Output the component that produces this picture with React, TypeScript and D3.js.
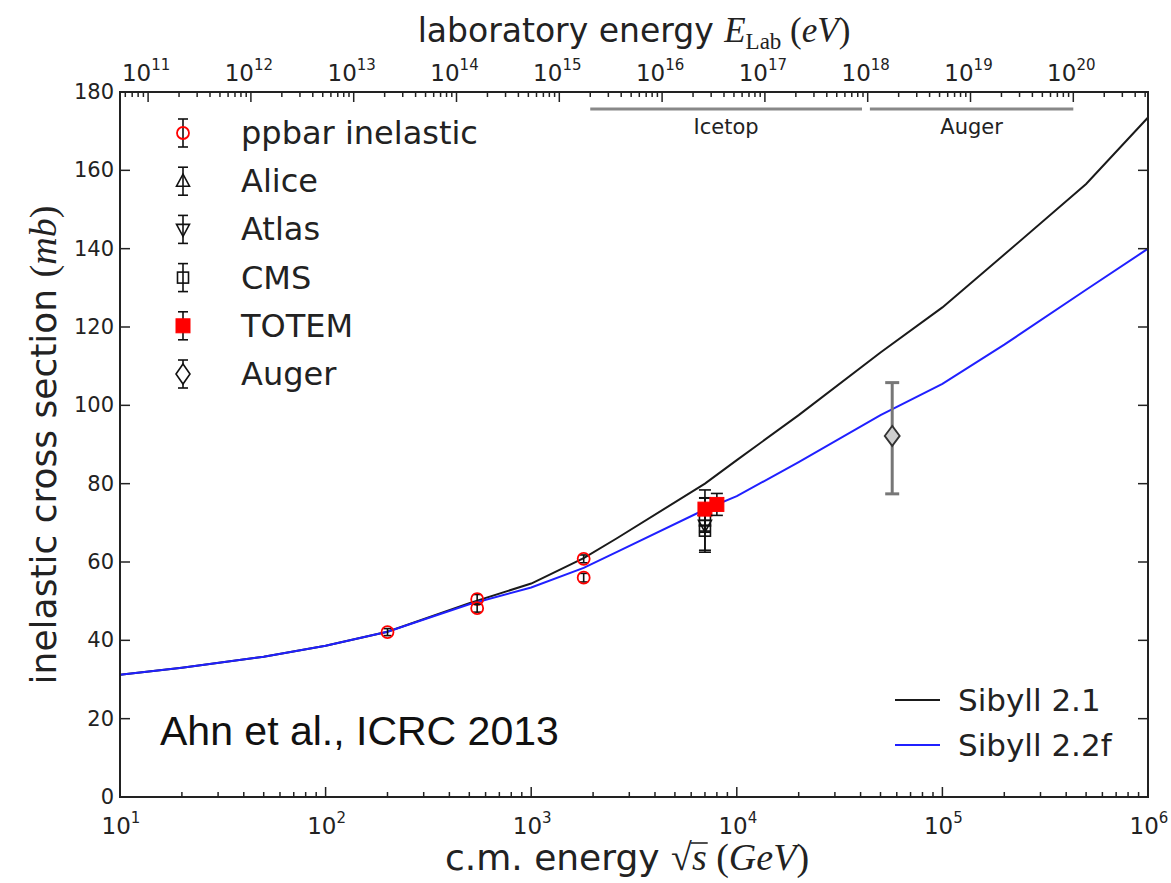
import { useLayoutEffect, useRef, useState } from 'react';
import * as d3 from 'd3';

// c.m. energy grid (GeV) and model cross sections (mb)
const SQRT_S = [10, 20, 50, 100, 200, 500, 1000, 1800, 2600, 7000, 10000, 20000, 50000, 100000, 200000, 500000, 1000000];
const SIBYLL_21 = [31.2, 33.0, 35.8, 38.6, 42.2, 49.5, 54.5, 61.0, 66.0, 80.0, 86.0, 97.5, 113.5, 125.0, 138.5, 156.5, 173.5];
const SIBYLL_22F = [31.2, 33.0, 35.8, 38.6, 42.2, 49.2, 53.5, 58.5, 62.5, 73.4, 76.8, 85.5, 97.5, 105.5, 115.5, 129.5, 140.0];

type Pt = { e: number; v: number; lo: number; hi: number };

const PPBAR: Pt[] = [
  { e: 200, v: 42.1, lo: 0.9, hi: 0.9 },
  { e: 546, v: 50.5, lo: 1.2, hi: 1.2 },
  { e: 546, v: 48.2, lo: 1.0, hi: 1.0 },
  { e: 1800, v: 60.8, lo: 1.0, hi: 1.0 },
  { e: 1800, v: 56.0, lo: 1.1, hi: 1.1 },
];
const ALICE: Pt[] = [{ e: 7000, v: 73.2, lo: 5.3, hi: 5.2 }];
const ATLAS: Pt[] = [{ e: 7000, v: 69.4, lo: 6.9, hi: 6.9 }];
const CMS: Pt[] = [
  { e: 7000, v: 68.0, lo: 5.0, hi: 5.0 },
  { e: 7000, v: 70.6, lo: 3.0, hi: 3.0 },
];
const TOTEM: Pt[] = [
  { e: 7000, v: 73.5, lo: 2.9, hi: 2.9 },
  { e: 8000, v: 74.7, lo: 2.8, hi: 2.8 },
];
const AUGER: Pt[] = [{ e: 57000, v: 92.2, lo: 14.8, hi: 13.6 }];

const Y_TICKS = [0, 20, 40, 60, 80, 100, 120, 140, 160, 180];
const X_EXPONENTS = [1, 2, 3, 4, 5, 6];
const LAB_EXPONENTS = [11, 12, 13, 14, 15, 16, 17, 18, 19, 20];

// experiment energy ranges in lab energy (eV)
const RANGES = [
  { label: 'Icetop', from: 2e15, to: 8.8e17 },
  { label: 'Auger', from: 1.05e18, to: 1e20 },
];

const LEGEND_MARKERS = [
  { label: 'ppbar inelastic', kind: 'circle' },
  { label: 'Alice', kind: 'triUp' },
  { label: 'Atlas', kind: 'triDown' },
  { label: 'CMS', kind: 'square' },
  { label: 'TOTEM', kind: 'filled' },
  { label: 'Auger', kind: 'diamondOpen' },
];

const M_P = 0.938272;
const labToCm = (eV: number) => Math.sqrt((2 * M_P * eV) / 1e9);

const W = 1171;
const H = 883;
const X0 = 120;
const X1 = 1148;
const Y0 = 797;
const Y1 = 92;

const SANS = "'DejaVu Sans', sans-serif";
const SERIF = "'Liberation Serif', 'DejaVu Serif', serif";

function Marker({ kind, x, y }: { kind: string; x: number; y: number }) {
  if (kind === 'circle')
    return <circle cx={x} cy={y} r={6} fill="none" stroke="#ff0000" strokeWidth={1.8} />;
  if (kind === 'triUp')
    return <path d={`M${x},${y - 7}L${x + 6.5},${y + 5}L${x - 6.5},${y + 5}Z`} fill="none" stroke="#111" strokeWidth={1.6} />;
  if (kind === 'triDown')
    return <path d={`M${x},${y + 7}L${x + 6.5},${y - 5}L${x - 6.5},${y - 5}Z`} fill="none" stroke="#111" strokeWidth={1.6} />;
  if (kind === 'square')
    return <rect x={x - 5.5} y={y - 5.5} width={11} height={11} fill="none" stroke="#111" strokeWidth={1.6} />;
  if (kind === 'filled')
    return <rect x={x - 7} y={y - 7} width={14} height={14} fill="#ff0000" stroke="#ff0000" strokeWidth={1} />;
  if (kind === 'diamondOpen')
    return <path d={`M${x},${y - 10}L${x + 7},${y}L${x},${y + 10}L${x - 7},${y}Z`} fill="#fff" stroke="#111" strokeWidth={1.6} />;
  return <path d={`M${x},${y - 10}L${x + 7.5},${y}L${x},${y + 10}L${x - 7.5},${y}Z`} fill="#cfcfcf" stroke="#333" strokeWidth={1.8} />;
}

function ErrBar({ x, y0, y1, color = '#111', width = 1.6, cap = 6 }: { x: number; y0: number; y1: number; color?: string; width?: number; cap?: number }) {
  return (
    <g stroke={color} strokeWidth={width}>
      <line x1={x} x2={x} y1={y0} y2={y1} />
      <line x1={x - cap} x2={x + cap} y1={y0} y2={y0} />
      <line x1={x - cap} x2={x + cap} y1={y1} y2={y1} />
    </g>
  );
}

function Pow10({ x, y, exp }: { x: number; y: number; exp: number }) {
  return (
    <text x={x} y={y} textAnchor="middle" fontFamily={SANS} fontSize={23} fill="#222">
      10
      <tspan fontSize={15} dy={-11}>{exp}</tspan>
    </text>
  );
}

const XLABEL_FS = 36;
const XLABEL_Y = 870;

function XLabel() {
  const ref = useRef<SVGTextElement>(null);
  const [bar, setBar] = useState<{ x1: number; x2: number } | null>(null);
  useLayoutEffect(() => {
    const t = ref.current;
    if (!t) return;
    const idx = (t.textContent || '').indexOf('√');
    if (idx < 0) return;
    const r = t.getEndPositionOfChar(idx);
    const s = t.getEndPositionOfChar(idx + 1);
    setBar({ x1: r.x - 1, x2: s.x + 1 });
  }, []);
  return (
    <g>
      <text ref={ref} x={627} y={XLABEL_Y} textAnchor="middle" fontFamily={SANS} fontSize={XLABEL_FS} fill="#222">
        c.m. energy{' '}
        <tspan fontFamily={SERIF} fontSize={XLABEL_FS + 2}>√</tspan>
        <tspan fontFamily={SERIF} fontStyle="italic" fontSize={XLABEL_FS + 2}>s</tspan>
        <tspan fontFamily={SERIF} fontSize={XLABEL_FS + 2}> (</tspan>
        <tspan fontFamily={SERIF} fontStyle="italic" fontSize={XLABEL_FS + 2}>GeV</tspan>
        <tspan fontFamily={SERIF} fontSize={XLABEL_FS + 2}>)</tspan>
      </text>
      {bar && (
        <line x1={bar.x1} x2={bar.x2} y1={XLABEL_Y - 27} y2={XLABEL_Y - 27} stroke="#222" strokeWidth={1.6} />
      )}
    </g>
  );
}

export default function App() {
  const xScale = d3.scaleLog().domain([10, 1e6]).range([X0, X1]);
  const yScale = d3.scaleLinear().domain([0, 180]).range([Y0, Y1]);
  const line = d3
    .line<number>()
    .x((_, i) => xScale(SQRT_S[i]))
    .y((d) => yScale(d));

  // bottom ticks
  const bottomTicks: { v: number; major: boolean }[] = [];
  for (let n = 1; n <= 6; n++) {
    for (let k = 1; k <= 9; k++) {
      const v = k * Math.pow(10, n);
      if (v > 1e6) break;
      bottomTicks.push({ v, major: k === 1 });
    }
  }
  // top ticks (lab energy)
  const [eMin, eMax] = [(10 * 10 * 1e9) / (2 * M_P), (1e12 * 1e9) / (2 * M_P)];
  const topTicks: { v: number; major: boolean }[] = [];
  for (let n = 10; n <= 20; n++) {
    for (let k = 1; k <= 9; k++) {
      const v = k * Math.pow(10, n);
      if (v < eMin || v > eMax) continue;
      topTicks.push({ v, major: k === 1 });
    }
  }

  const series = [
    { data: PPBAR, kind: 'circle' },
    { data: CMS, kind: 'square' },
    { data: ATLAS, kind: 'triDown' },
    { data: ALICE, kind: 'triUp' },
  ];

  return (
    <svg width={W} height={H} style={{ position: 'absolute', left: 0, top: 0, background: '#fff' }}>
      {/* curves */}
      <path d={line(SIBYLL_21) || ''} fill="none" stroke="#1a1a1a" strokeWidth={2} />
      <path d={line(SIBYLL_22F) || ''} fill="none" stroke="#2020ff" strokeWidth={2} />

      {/* data with error bars */}
      {series.map((s, si) =>
        s.data.map((d, i) => (
          <g key={`${si}-${i}`}>
            <ErrBar x={xScale(d.e)} y0={yScale(d.v + d.hi)} y1={yScale(d.v - d.lo)} cap={s.kind === 'circle' ? 4 : 6} />
            <Marker kind={s.kind} x={xScale(d.e)} y={yScale(d.v)} />
          </g>
        ))
      )}
      {TOTEM.map((d, i) => (
        <g key={`t${i}`}>
          <ErrBar x={xScale(d.e)} y0={yScale(d.v + d.hi)} y1={yScale(d.v - d.lo)} />
          <Marker kind="filled" x={xScale(d.e)} y={yScale(d.v)} />
        </g>
      ))}
      {AUGER.map((d, i) => (
        <g key={`a${i}`}>
          <ErrBar x={xScale(d.e)} y0={yScale(d.v + d.hi)} y1={yScale(d.v - d.lo)} color="#777" width={3} cap={7} />
          <Marker kind="diamond" x={xScale(d.e)} y={yScale(d.v)} />
        </g>
      ))}

      {/* frame */}
      <rect x={X0} y={Y1} width={X1 - X0} height={Y0 - Y1} fill="none" stroke="#222" strokeWidth={2} />

      {/* bottom axis */}
      {bottomTicks.map((t) => (
        <line key={`b${t.v}`} x1={xScale(t.v)} x2={xScale(t.v)} y1={Y0} y2={Y0 - (t.major ? 10 : 5)} stroke="#222" strokeWidth={1.5} />
      ))}
      {X_EXPONENTS.map((n) => (
        <Pow10 key={`bl${n}`} x={xScale(Math.pow(10, n)) + 1} y={834} exp={n} />
      ))}

      {/* top axis */}
      {topTicks.map((t) => (
        <line key={`t${t.v}`} x1={xScale(labToCm(t.v))} x2={xScale(labToCm(t.v))} y1={Y1} y2={Y1 + (t.major ? 10 : 5)} stroke="#222" strokeWidth={1.5} />
      ))}
      {LAB_EXPONENTS.map((n) => (
        <Pow10 key={`tl${n}`} x={xScale(labToCm(Math.pow(10, n))) - 2} y={81} exp={n} />
      ))}

      {/* y axis */}
      {Y_TICKS.map((v) => (
        <g key={`y${v}`}>
          <line x1={X0} x2={X0 + 10} y1={yScale(v)} y2={yScale(v)} stroke="#222" strokeWidth={1.5} />
          <line x1={X1} x2={X1 - 10} y1={yScale(v)} y2={yScale(v)} stroke="#222" strokeWidth={1.5} />
          <text x={X0 - 6} y={yScale(v) + 7} textAnchor="end" fontFamily={SANS} fontSize={21} fill="#222">
            {v}
          </text>
        </g>
      ))}

      {/* experiment ranges */}
      {RANGES.map((r) => {
        const a = xScale(labToCm(r.from));
        const b = xScale(labToCm(r.to));
        return (
          <g key={r.label}>
            <line x1={a} x2={b} y1={109} y2={109} stroke="#888" strokeWidth={3} />
            <text x={(a + b) / 2} y={134} textAnchor="middle" fontFamily={SANS} fontSize={21} fill="#222">
              {r.label}
            </text>
          </g>
        );
      })}

      {/* axis titles */}
      <text x={634} y={42} textAnchor="middle" fontFamily={SANS} fontSize={33} fill="#222">
        laboratory energy{' '}
        <tspan fontFamily={SERIF} fontStyle="italic" fontSize={35}>E</tspan>
        <tspan fontFamily={SERIF} fontSize={23} dy={7}>Lab</tspan>
        <tspan fontFamily={SERIF} fontSize={35} dy={-7}> (</tspan>
        <tspan fontFamily={SERIF} fontStyle="italic" fontSize={35}>eV</tspan>
        <tspan fontFamily={SERIF} fontSize={35}>)</tspan>
      </text>
      <XLabel />
      <text transform="translate(56,445) rotate(-90)" textAnchor="middle" fontFamily={SANS} fontSize={36} fill="#222">
        inelastic cross section{' '}
        <tspan fontFamily={SERIF} fontSize={38}>(</tspan>
        <tspan fontFamily={SERIF} fontStyle="italic" fontSize={38}>mb</tspan>
        <tspan fontFamily={SERIF} fontSize={38}>)</tspan>
      </text>

      {/* markers legend */}
      {LEGEND_MARKERS.map((m, i) => {
        const y = 133 + i * 48.2;
        return (
          <g key={m.label}>
            <ErrBar x={183} y0={y - 14} y1={y + 14} cap={5} />
            <Marker kind={m.kind} x={183} y={y} />
            <text x={241} y={y + 11} fontFamily={SANS} fontSize={32} fill="#222">
              {m.label}
            </text>
          </g>
        );
      })}

      {/* lines legend */}
      <line x1={895} x2={940} y1={700} y2={700} stroke="#1a1a1a" strokeWidth={2} />
      <line x1={895} x2={940} y1={745} y2={745} stroke="#2020ff" strokeWidth={2} />
      <text x={958} y={711} fontFamily={SANS} fontSize={31} fill="#222">Sibyll 2.1</text>
      <text x={958} y={756} fontFamily={SANS} fontSize={31} fill="#222">Sibyll 2.2f</text>

      <text x={160} y={745} fontFamily="'Liberation Sans', Arial, sans-serif" fontSize={41} fill="#111">
        Ahn et al., ICRC 2013
      </text>
    </svg>
  );
}
